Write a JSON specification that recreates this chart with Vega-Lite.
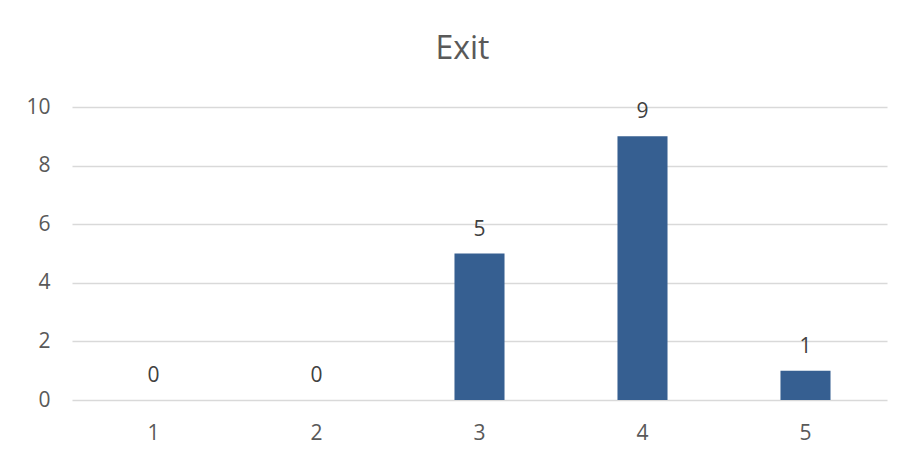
{
  "$schema": "https://vega.github.io/schema/vega-lite/v6.json",
  "width": 815,
  "height": 293,
  "autosize": {"type": "none"},
  "padding": {"left": 72, "top": 107, "right": 14, "bottom": 57},
  "background": "white",
  "title": {
    "text": "Exit",
    "font": "Open Sans",
    "fontSize": 32,
    "fontWeight": "normal",
    "color": "#595959",
    "anchor": "middle",
    "dx": -17,
    "offset": 30
  },
  "data": {
    "values": [
      {"category": "1", "value": 0},
      {"category": "2", "value": 0},
      {"category": "3", "value": 5},
      {"category": "4", "value": 9},
      {"category": "5", "value": 1}
    ]
  },
  "config": {
    "view": {"stroke": null},
    "axis": {
      "labelFont": "Open Sans",
      "labelFontSize": 21,
      "labelColor": "#595959",
      "ticks": false,
      "domain": false,
      "titleFontSize": 0
    }
  },
  "encoding": {
    "x": {
      "field": "category",
      "type": "ordinal",
      "scale": {"paddingInner": 0.693, "paddingOuter": 0.3465},
      "axis": {"title": null, "labelAngle": 0, "grid": false, "labelPadding": 22}
    },
    "y": {
      "field": "value",
      "type": "quantitative",
      "scale": {"domain": [0, 10], "nice": false},
      "axis": {
        "title": null,
        "values": [0, 2, 4, 6, 8, 10],
        "grid": true,
        "gridColor": "#D9D9D9",
        "gridWidth": 1.3,
        "labelPadding": 22
      }
    }
  },
  "layer": [
    {"mark": {"type": "bar", "color": "#365F91"}},
    {
      "mark": {
        "type": "text",
        "font": "Open Sans",
        "fontSize": 21,
        "color": "#404040",
        "baseline": "alphabetic",
        "dy": -18
      },
      "encoding": {"text": {"field": "value", "type": "quantitative"}}
    }
  ]
}
